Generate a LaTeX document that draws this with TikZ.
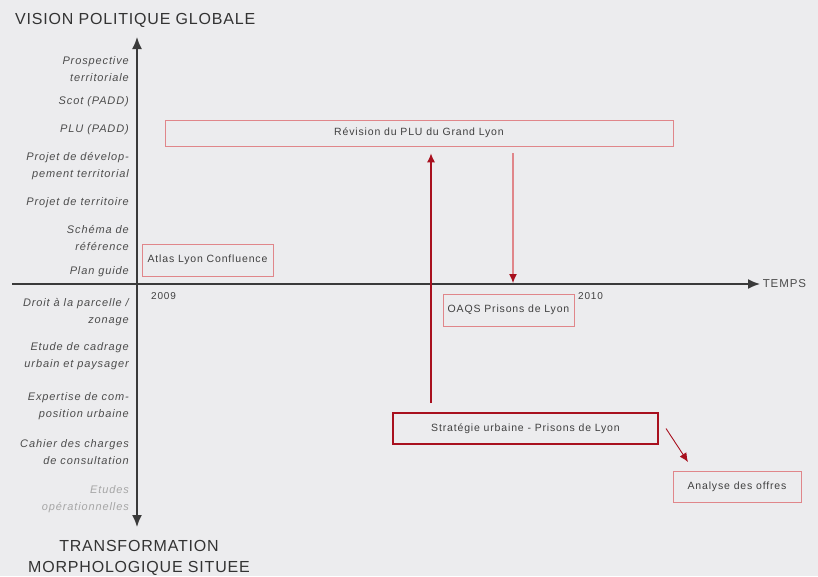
\documentclass[tikz,border=0pt]{standalone}
\usepackage{fontspec}
\setmainfont{Liberation Sans}
\newfontfamily\widefont[LetterSpace=8]{Liberation Sans}
\newfontfamily\titlefont[LetterSpace=5]{Liberation Sans}
\usetikzlibrary{arrows.meta, calc, positioning}
\definecolor{bgGrey}{HTML}{ECECEE}
\definecolor{boxRed}{HTML}{E0868A}
\definecolor{darkRed}{HTML}{A8101E}
\definecolor{labelGrey}{HTML}{4C4C4C}
\definecolor{axisGrey}{HTML}{3A3A3A}

\tikzset{
    stage/.style={font=\widefont\itshape\fontsize{11}{16.5}\selectfont, text=labelGrey, align=right, anchor=east, inner sep=0pt},
    event/.style={draw=boxRed, line width=0.8pt, font=\widefont\fontsize{10.5}{12}\selectfont, text=black!75, inner sep=0pt},
    bigtitle/.style={font=\titlefont\fontsize{16}{21}\selectfont, text=black!80, inner sep=0pt},
    year/.style={font=\widefont\fontsize{10}{12}\selectfont, text=black!75, anchor=west, inner sep=0pt},
}

\begin{document}
\begin{tikzpicture}[x=1pt, y=-1pt]
            \fill[bgGrey] (0,0) rectangle (818,576);
            \useasboundingbox (0,0) rectangle (818,576);

            \coordinate (O)   at (137,284);
            \coordinate (XAxisMin) at (12,284);
            \coordinate (XAxisMax) at (760,284);
            \coordinate (YAxisMin) at (137,527);
            \coordinate (YAxisMax) at (137,37);
            \draw [line width=1.6pt, axisGrey, -{Latex[length=12pt,width=10pt]}] (XAxisMin) -- (XAxisMax) node[right=2pt, font=\widefont\fontsize{11.5}{12}\selectfont, text=labelGrey, inner sep=0pt] (temps) {TEMPS};% x axis
            \draw [line width=1.6pt, axisGrey, -{Latex[length=12pt,width=10pt]}] (O) -- (YAxisMax);% y axis up
            \draw [line width=1.6pt, axisGrey, -{Latex[length=12pt,width=10pt]}] (O) -- (YAxisMin);% y axis down

            \node[bigtitle, anchor=west] (vision) at (15,20) {VISION POLITIQUE GLOBALE};
            \node[bigtitle, align=center] (transfo) at (139,558) {TRANSFORMATION\\MORPHOLOGIQUE SITUEE};

            % levels along the vertical axis
            \node[stage] (prosp)  at (129,69)  {Prospective\\territoriale};
            \node[stage] (scot)   at (129,102) {Scot (PADD)};
            \node[stage] (pluLvl) at (129,130) {PLU (PADD)};
            \node[stage] (pdt)    at (129,166) {Projet de dévelop-\\pement territorial};
            \node[stage] (ptr)    at (129,203) {Projet de territoire};
            \node[stage] (schema) at (129,238) {Schéma de\\référence};
            \node[stage] (plan)   at (129,272) {Plan guide};
            \node[stage] (droit)  at (129,312) {Droit à la parcelle /\\zonage};
            \node[stage] (cadre)  at (129,356) {Etude de cadrage\\urbain et paysager};
            \node[stage] (exper)  at (129,406) {Expertise de com-\\position urbaine};
            \node[stage] (cahier) at (129,452) {Cahier des charges\\de consultation};
            \node[stage, text=black!35] (etudes) at (129,499) {Etudes\\opérationnelles};

            \node[year] (y2009) at (151,296) {2009};
            \node[year] (y2010) at (578,296) {2010};

            % projects
            \node[event, minimum width=508pt, minimum height=26pt] (revision) at (419,133) {Révision du PLU du Grand Lyon};
            \node[event, minimum width=131pt, minimum height=32pt] (atlas) at (207.5,260) {Atlas Lyon Confluence};
            \node[event, minimum width=131pt, minimum height=32pt] (oaqs) at (508.5,310) {OAQS Prisons de Lyon};
            \node[event, draw=darkRed, line width=2pt, minimum width=265pt, minimum height=31pt] (strat) at (525.5,428.5) {Stratégie urbaine - Prisons de Lyon};
            \node[event, minimum width=128pt, minimum height=31pt] (analyse) at (737,486.5) {Analyse des offres};

            \coordinate (upStart) at (431,403);
            \coordinate (downX) at (513,0);
            \coordinate (diagEnd) at (688,462);
            \draw[darkRed, line width=1.1pt, -{Latex[length=9pt,width=8pt]}] (upStart) -- ($(revision.south -| upStart)+(0,7)$);
            \draw[boxRed, line width=1.1pt, -{Latex[length=9pt,width=8pt,color=darkRed]}] ($(revision.south -| downX)+(0,7)$) -- ($(O -| downX)+(0,-1)$);
            \draw[darkRed, line width=0.9pt, -{Latex[length=9pt,width=8pt]}] ($(strat.east)+(7,0)$) -- (diagEnd);
        \end{tikzpicture}
\end{document}
